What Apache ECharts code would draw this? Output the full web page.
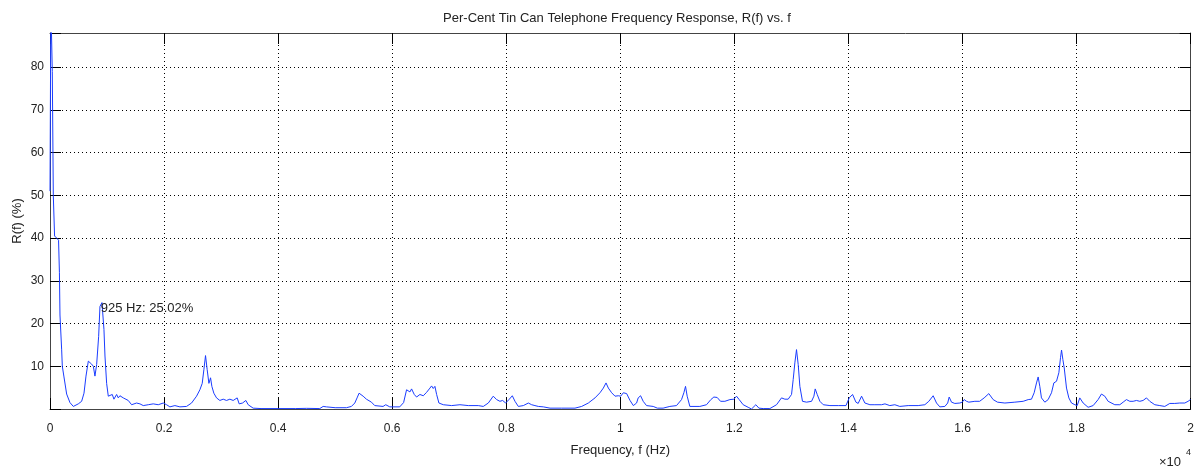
<!DOCTYPE html>
<html>
<head>
<meta charset="utf-8">
<script src="https://cdn.jsdelivr.net/npm/echarts@6/dist/echarts.min.js"></script>
<style>
  html, body { margin: 0; padding: 0; background: #fff; }
  #chart { width: 1197px; height: 472px; }
</style>
</head>
<body>
<div id="chart"></div>
<script>
// ---- data ----
const titleText = 'Per-Cent Tin Can Telephone Frequency Response, R(f) vs. f';
const xAxisTitle = 'Frequency, f (Hz)';
const yAxisTitle = 'R(f) (%)';
const xTickValues = [0, 2000, 4000, 6000, 8000, 10000, 12000, 14000, 16000, 18000, 20000];
const xTickLabels = ['0', '0.2', '0.4', '0.6', '0.8', '1', '1.2', '1.4', '1.6', '1.8', '2'];
const yTickValues = [10, 20, 30, 40, 50, 60, 70, 80];
const yTickLabels = ['10', '20', '30', '40', '50', '60', '70', '80'];
const peakFreq = 925;
const peakValue = 25.02;

const freqHz = [
  0, 15, 40, 58, 80, 117, 150, 165, 175, 204, 216, 245, 292, 350, 409, 438, 496, 555, 596, 631,
  672, 701, 730, 760, 788, 818, 853, 876, 911, 925, 946, 964, 993, 1022, 1051, 1092, 1121, 1168, 1197, 1226,
  1285, 1314, 1372, 1431, 1518, 1577, 1635, 1723, 1810, 1898, 1986, 2044, 2102, 2190, 2278, 2394, 2482, 2570, 2628, 2669,
  2698, 2727, 2756, 2786, 2815, 2838, 2873, 2920, 2978, 3037, 3095, 3154, 3212, 3282, 3317, 3376, 3434, 3475, 3562, 3700,
  4000, 4300, 4500, 4730, 4789, 4818, 4847, 5000, 5198, 5285, 5344, 5384, 5419, 5490, 5548, 5577, 5636, 5694, 5840, 5887,
  5957, 6132, 6165, 6200, 6252, 6282, 6311, 6340, 6387, 6428, 6486, 6545, 6603, 6662, 6691, 6720, 6749, 6779, 6819, 6896,
  7042, 7188, 7334, 7509, 7597, 7685, 7772, 7831, 7889, 7936, 7989, 8047, 8106, 8153, 8211, 8299, 8387, 8445, 8503, 8562,
  8650, 8767, 8971, 9205, 9322, 9439, 9556, 9643, 9702, 9749, 9790, 9848, 9907, 9965, 10006, 10053, 10111, 10170, 10228, 10285,
  10313, 10355, 10401, 10459, 10576, 10650, 10750, 10868, 10985, 11073, 11114, 11143, 11172, 11219, 11394, 11511, 11587, 11640, 11698, 11757,
  11833, 11921, 11991, 12037, 12084, 12154, 12241, 12300, 12376, 12430, 12505, 12622, 12739, 12826, 12885, 12943, 13002, 13031, 13060, 13089,
  13119, 13148, 13194, 13265, 13353, 13394, 13417, 13452, 13499, 13558, 13675, 13821, 13956, 14014, 14072, 14131, 14170, 14230, 14288, 14376,
  14463, 14580, 14640, 14725, 14813, 14900, 15047, 15222, 15339, 15409, 15485, 15544, 15602, 15690, 15740, 15766, 15807, 15865, 15953, 15994,
  16030, 16070, 16110, 16216, 16300, 16379, 16461, 16537, 16613, 16742, 16917, 17063, 17151, 17209, 17256, 17297, 17326, 17355, 17384, 17443,
  17501, 17560, 17601, 17648, 17689, 17718, 17736, 17759, 17783, 17823, 17864, 17911, 17970, 18011, 18056, 18115, 18202, 18290, 18377, 18436,
  18494, 18553, 18670, 18758, 18816, 18874, 18933, 18991, 19050, 19108, 19166, 19225, 19283, 19371, 19459, 19546, 19634, 19721, 19809, 19897,
  19955, 19996
];

const responsePct = [
  51, 95, 79, 50, 40.5, 40, 39.5, 32, 22, 14, 10, 7.5, 3.5, 1.5, 0.6, 0.5, 1.2, 1.8, 3.7, 7.7,
  11.2, 10.8, 10.5, 10, 7.7, 10.4, 17, 24, 24.9, 25.02, 18.6, 12.4, 6, 3, 2.6, 3.4, 2.3, 3.4, 2.6, 3.1,
  2.6, 3, 2, 1, 1.4, 1.2, 0.8, 1, 1.2, 1, 1.4, 1, 0.5, 0.8, 0.5, 0.6, 1.4, 3, 4.5, 6,
  9.2, 12.5, 9.2, 6, 7.3, 5.3, 3.7, 2.6, 2, 2.3, 2, 2.3, 2, 2.6, 1.2, 1.4, 2, 1, 0.2, 0.1,
  0.1, 0.1, 0.15, 0.1, 0.6, 1, 0.5, 0.3, 0.3, 0.6, 1.4, 2.6, 3.7, 3, 2.3, 2.6, 1.6, 0.8, 0.6, 1,
  0.5, 0.5, 0.6, 1.5, 4.5, 4.7, 4.0, 4.7, 3.4, 2.8, 3.4, 3.1, 3.9, 4.9, 5.4, 4.8, 5.3, 3.4, 1.4, 1,
  0.8, 1, 0.8, 0.8, 0.6, 1.4, 3, 2.2, 1.8, 2, 1.4, 2.2, 3.1, 1.8, 0.6, 0.8, 1.4, 1, 0.8, 0.6,
  0.5, 0.2, 0.2, 0.2, 0.6, 1.4, 2.6, 3.8, 4.9, 6.1, 4.9, 3.8, 3, 3.1, 3, 3.8, 3.6, 2, 0.8, 1.4,
  2.6, 3.1, 1.8, 0.8, 0.6, 0.2, 0.2, 0.6, 0.8, 2.2, 3.8, 5.3, 3, 0.6, 0.6, 1, 2.2, 2.8, 2.7, 1.8,
  1.8, 2.2, 2.3, 3, 2.2, 1, 0.4, 0, 1, 0.2, 0.1, 0.1, 1, 2.6, 2.3, 2.3, 3.4, 6.9, 10.8, 13.9,
  10.4, 5.3, 1.8, 1.6, 1.8, 3, 4.7, 3.4, 1.8, 1, 0.8, 0.8, 0.8, 2.6, 3.4, 1.6, 1.3, 3, 1.4, 1,
  1, 1, 1.2, 0.8, 1, 0.6, 0.8, 0.8, 1, 1.8, 3.1, 1.4, 0.5, 0.6, 1.4, 2.8, 1.6, 1.3, 1.4, 1.6,
  2.2, 1.8, 1.6, 1.8, 1.8, 2.6, 3.6, 2.2, 1.6, 1.4, 1.6, 1.8, 2.2, 2.3, 3.8, 6.1, 7.5, 5.3, 2.6, 1.6,
  2.2, 3.8, 6.1, 6.5, 8.5, 12, 13.8, 11.6, 9.6, 4.9, 2.6, 1.4, 1, 0.8, 2.6, 1.4, 0.4, 0.8, 2.2, 3.5,
  3, 1.8, 1, 1, 1.6, 2.2, 1.8, 1.8, 2, 1.8, 2, 2.6, 1.8, 1, 0.8, 0.6, 1.3, 1.3, 1.4, 1.4,
  1.8, 2.2
];

// ---- chart ----
const FONT = '"Liberation Sans", Arial, Helvetica, sans-serif';
const TEXT = '#222';
const seriesData = freqHz.map((f, i) => [f, responsePct[i]]);

const chart = echarts.init(document.getElementById('chart'), null, { renderer: 'canvas' });

const gridDots = { color: '#000', width: 1, type: [1, 3] };
const boxLine = { show: true, onZero: false, lineStyle: { color: '#444', width: 1 } };
const tickStyle = { show: true, inside: true, length: 11, lineStyle: { color: '#000', width: 1 } };

const xLabel = v => {
  const i = xTickValues.indexOf(Math.round(v));
  return i >= 0 ? xTickLabels[i] : '';
};
const yLabel = v => {
  const i = yTickValues.indexOf(Math.round(v * 1000) / 1000);
  return i >= 0 ? yTickLabels[i] : '';
};

chart.setOption({
  animation: false,
  backgroundColor: '#fff',
  textStyle: { fontFamily: FONT },
  title: {
    text: titleText,
    left: 612,
    top: 7,
    textAlign: 'center',
    textStyle: { fontFamily: FONT, fontSize: 13, fontWeight: 'normal', color: TEXT }
  },
  grid: { left: 50, right: 6, top: 33, bottom: 63, containLabel: false },
  xAxis: [
    {
      type: 'value', position: 'bottom', min: 0, max: 20000, interval: 2000,
      axisLine: boxLine, axisTick: tickStyle,
      axisLabel: { formatter: xLabel, color: TEXT, fontSize: 12, fontFamily: FONT, margin: 14 },
      splitLine: { show: true, lineStyle: gridDots },
      name: xAxisTitle, nameLocation: 'middle', nameGap: 35, nameMoveOverlap: false,
      nameTextStyle: { color: TEXT, fontSize: 13, fontFamily: FONT }
    },
    {
      type: 'value', position: 'top', min: 0, max: 20000, interval: 2000,
      axisLine: boxLine, axisTick: tickStyle,
      axisLabel: { show: false }, splitLine: { show: false }
    }
  ],
  yAxis: [
    {
      type: 'value', position: 'left', min: 0, max: 88, interval: 10,
      axisLine: boxLine, axisTick: tickStyle,
      axisLabel: { formatter: yLabel, color: TEXT, fontSize: 12, fontFamily: FONT, margin: 6 },
      splitLine: { show: true, lineStyle: gridDots },
      name: yAxisTitle, nameLocation: 'middle', nameGap: 26, nameRotate: 90, nameMoveOverlap: false,
      nameTextStyle: { color: TEXT, fontSize: 13, fontFamily: FONT }
    },
    {
      type: 'value', position: 'right', min: 0, max: 88, interval: 10,
      axisLine: boxLine, axisTick: tickStyle,
      axisLabel: { show: false }, splitLine: { show: false }
    }
  ],
  series: [
    {
      type: 'line',
      xAxisIndex: 0, yAxisIndex: 0,
      data: seriesData,
      showSymbol: false, symbol: 'none',
      clip: true,
      lineStyle: { color: '#1a3cff', width: 1 },
      itemStyle: { color: '#1a3cff' },
      markPoint: {
        symbol: 'circle', symbolSize: 0, silent: true,
        data: [{ coord: [peakFreq, peakValue] }],
        label: {
          show: true, position: 'right', distance: 0, offset: [-2, 6],
          formatter: () => peakFreq + ' Hz: ' + peakValue.toFixed(2) + '%',
          color: TEXT, fontSize: 13, fontFamily: FONT
        }
      }
    }
  ],
  graphic: [
    { type: 'text', left: 1159, top: 456, style: { text: '×10', fill: TEXT, font: '13px ' + FONT } },
    { type: 'text', left: 1186, top: 448, style: { text: '4', fill: TEXT, font: '9px ' + FONT } }
  ]
});
</script>
</body>
</html>
